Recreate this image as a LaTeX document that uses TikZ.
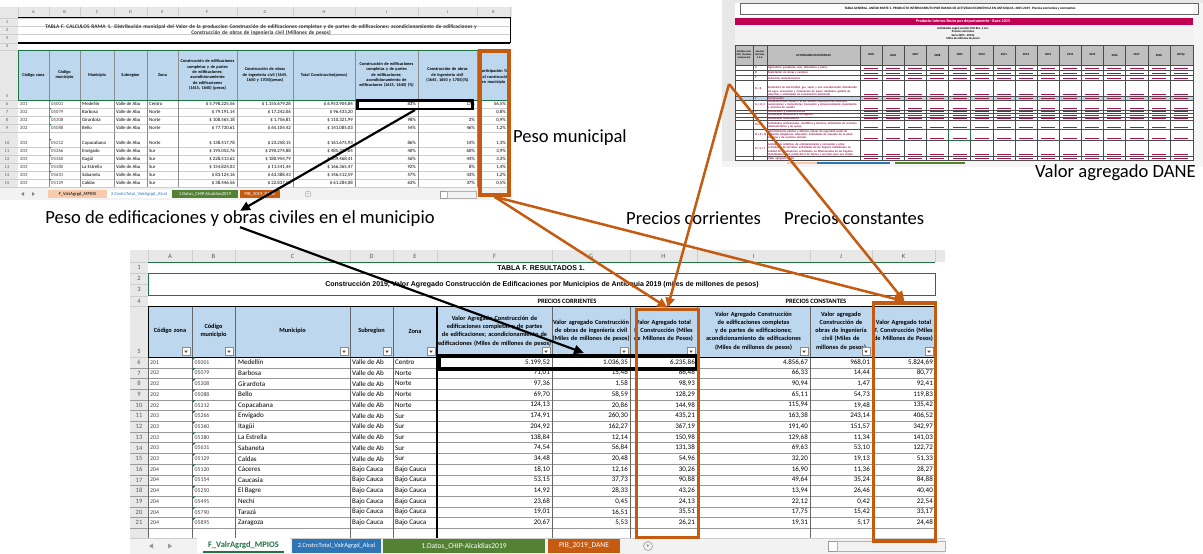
\documentclass[tikz,border=0pt]{standalone}
\usepackage{fontspec}
\setmainfont{Carlito}
\newfontfamily\arialfont{Liberation Sans}
\usetikzlibrary{arrows.meta}
\hyphenpenalty=10000
\exhyphenpenalty=10000

\definecolor{hdrblue}{RGB}{189,215,238}
\definecolor{sheetgrey}{RGB}{232,232,232}
\definecolor{gridgrey}{RGB}{205,205,205}
\definecolor{xlgreen}{RGB}{33,115,70}
\definecolor{tabgreen}{RGB}{84,130,53}
\definecolor{tabblue}{RGB}{46,117,182}
\definecolor{tabpeach}{RGB}{248,203,173}
\definecolor{hiorange}{RGB}{197,90,17}
\definecolor{danemag}{RGB}{192,0,80}
\definecolor{danetxt}{RGB}{165,20,75}
\definecolor{danehdr}{RGB}{191,191,191}

\newcommand{\fsz}[2]{\fontsize{#1}{#2}\selectfont}

\tikzset{
  collbl/.style={font=\fsz{6.5}{7},text=black!65,inner sep=0},
  rownum/.style={font=\fsz{6.5}{7},text=black!65,inner sep=0},
  hdrtxt/.style={font=\bfseries\fsz{6.3}{8.2},align=center,inner sep=0},
  datl/.style={font=\fsz{7}{8},anchor=west,inner sep=0},
  datr/.style={font=\fsz{7}{8},anchor=east,inner sep=0},
  codel/.style={font=\fsz{5.8}{7},anchor=west,inner sep=0,text=black!75},
  smcol/.style={font=\fsz{4.5}{5},text=black!65,inner sep=0},
  smhdr/.style={font=\bfseries\fsz{4.3}{5.4},align=center,inner sep=0},
  smdatl/.style={font=\fsz{4.8}{5},anchor=west,inner sep=0},
  smdatr/.style={font=\fsz{4.8}{5},anchor=east,inner sep=0},
  tabtxt/.style={font=\fsz{7.5}{8},inner sep=0},
  smtab/.style={font=\fsz{4.6}{5},inner sep=0},
  danetext/.style={font=\bfseries\fsz{2.9}{3.3},text=danetxt,inner sep=0},
  lbl/.style={font=\fsz{18.6}{20},inner sep=0},
  obox/.style={draw=hiorange,line width=3.5,inner sep=0},
  bbox/.style={draw=black,line width=3,inner sep=0},
  oarrow/.style={hiorange,line width=2.5,->},
  barrow/.style={black,line width=2.2,->}
}

\begin{document}
\begin{tikzpicture}[x=1pt,y=-1pt,>={Triangle[length=10pt,width=9pt]}]
\useasboundingbox (0,0) rectangle (1203,554);
\fill[white] (0,0) rectangle (1203,554);

%% calculos sheet (top left)
\fill[sheetgrey] (0,7) rectangle (512,18);
\fill[sheetgrey] (0,18) rectangle (18,188);
\foreach \l/\x in {A/33.5,B/64.5,C/97,D/130.5,E/162.5,F/207.5,G/265,H/324,I/386.5,J/447.5,K/493.5}
  \node[smcol] at (\x,12.5) {\l};
\foreach \x in {18,49,80,114,147,178,237,293,355,418,477,510}
  \draw[gridgrey,line width=0.4] (\x,7) -- (\x,18);
\foreach \r/\y in {1/22,2/30,3/38.5,4/46.5,5/96,6/104,7/112,8/120,9/128,10/143,11/151,12/159,13/167,14/175,15/183}
  \node[smcol] at (7,\y) {\r};
\foreach \y in {18,26,34,43,50,100,108,116,124,132,147,155,163,171,179,187}
  \draw[gridgrey,line width=0.4] (0,\y) -- (510,\y);
\draw[black,line width=0.6] (18,17.5) -- (510,17.5) -- (510,43);
\draw[black,line width=1.3] (18,43) -- (510,43);
\node[font=\bfseries\fsz{5.4}{6.6},align=center,text width=520,text=black!80] at (261,30)
  {TABLA F. CALCULOS RAMA 1. Distribución municipal del Valor de la produccion Construcción de edificaciones completas y de partes de edificaciones; acondicionamiento de edificaciones y\\Construcción de obras de ingenieria civil (Millones de pesos)};
\fill[hdrblue] (18,50) rectangle (510,100);
\foreach \xa/\xb/\txt in {18/49/{Código zona},49/80/{Código municipio},80/114/{Municipio},114/147/{Subregion},147/178/{Zona},
    178/237/{Construcción de edificaciones completas y de partes de edificaciones; acondicionamiento de edificaciones (1615, 1640) (pesos)},
    237/293/{Construcción de obras de ingeniería civil (1645, 1650 y 1705)(pesos)},
    293/355/{Total Construcción(pesos)},
    355/418/{Construcción de edificaciones completas y de partes de edificaciones; acondicionamiento de edificaciones (1615, 1640) (\%)},
    418/477/{Construcción de obras de ingeniería civil (1645, 1650 y 1705)(\%)}}{
  \pgfmathsetmacro\tw{\xb-\xa-3}
  \node[smhdr,text width=\tw pt] at ({(\xa+\xb)/2},75) {\txt};
}
\begin{scope}
  \clip (477.5,50) rectangle (509.5,100);
  \node[smhdr,text width=38pt] at (493.5,77) {Participación \% Total construcción en municipio};
\end{scope}
\foreach \x in {49,80,114,147,178,237,293,355,418,477,510}
  \draw[black!45,line width=0.4] (\x,50) -- (\x,187);
\draw[xlgreen,line width=0.7] (18,50) rectangle (510,100);
\foreach \r/\yc/\za/\mc/\mun/\zo/\vf/\vg/\vh/\vi/\vj/\vk in {
    6/104/201/05001/Medellín/Centro/{\$ 5.798.225,56}/{\$ 1.155.679,28}/{\$ 6.953.904,84}/83\%/17\%/{56,5\%},
    7/112/202/05079/Barbosa/Norte/{\$ 79.191,14}/{\$ 17.242,06}/{\$ 96.433,20}/{}/{}/{0,8\%},
    8/120/202/05308/Girardota/Norte/{\$ 108.565,18}/{\$ 1.756,81}/{\$ 110.321,99}/98\%/2\%/{0,9\%},
    9/128/202/05088/Bello/Norte/{\$ 77.730,61}/{\$ 65.104,42}/{\$ 141.085,03}/54\%/46\%/{1,2\%},
    10/143/202/05212/Copacabana/Norte/{\$ 138.417,78}/{\$ 23.258,15}/{\$ 161.675,93}/86\%/14\%/{1,3\%},
    11/151/203/05266/Envigado/Sur/{\$ 195.052,76}/{\$ 290.274,88}/{\$ 485.327,64}/40\%/60\%/{3,9\%},
    12/159/203/05360/Itagüí/Sur/{\$ 228.513,62}/{\$ 180.954,79}/{\$ 409.468,41}/56\%/44\%/{3,3\%},
    13/167/203/05380/La Estrella/Sur/{\$ 154.824,03}/{\$ 11.541,44}/{\$ 166.365,47}/92\%/8\%/{1,4\%},
    14/175/203/05631/Sabaneta/Sur/{\$ 83.124,16}/{\$ 63.388,43}/{\$ 146.512,59}/57\%/43\%/{1,2\%},
    15/183/203/05129/Caldas/Sur/{\$ 38.446,56}/{\$ 22.837,52}/{\$ 61.284,08}/63\%/37\%/{0,5\%}}{
  \node[smdatl,text=black!75] at (20,\yc) {\za};
  \node[smdatl,text=black!75] at (51,\yc) {\mc};
  \node[smdatl] at (82,\yc) {\mun};
  \node[smdatl] at (116,\yc) {Valle de Abu};
  \node[smdatl] at (149,\yc) {\zo};
  \node[smdatr] at (235,\yc) {\vf};
  \node[smdatr] at (291,\yc) {\vg};
  \node[smdatr] at (353,\yc) {\vh};
  \node[smdatr] at (416,\yc) {\vi};
  \node[smdatr] at (475,\yc) {\vj};
  \node[smdatr] at (506,\yc) {\vk};
  \fill[xlgreen] (49.5,\yc-4) -- (51.5,\yc-4) -- (49.5,\yc-2) -- cycle;
}
% tabs
\fill[black!5] (0,188) rectangle (512,200);
\fill[black!45] (21,194) -- (24,192) -- (24,196) -- cycle;
\fill[black!45] (35,194) -- (32,192) -- (32,196) -- cycle;
\fill[tabpeach] (48,189.5) rectangle (107,198);
\node[smtab] at (77.5,194) {F\_ValrAgrgd\_MPIOS};
\fill[white] (107,189.5) rectangle (171,198);
\node[smtab,text=tabblue] at (139,194) {2.CnstrcTotal\_ValrAgrgd\_Alcal};
\fill[tabgreen] (172,189.5) rectangle (238,198);
\node[smtab,text=white] at (205,194) {1.Datos\_CHIP-Alcaldias2019};
\fill[hiorange] (240,189.5) rectangle (280,198);
\node[smtab,text=white] at (260,194) {PIB\_2019\_DANE};
\draw[black!40,line width=0.4] (308,194) circle (3);
\node[smtab,text=black!50] at (308,194) {+};
\draw[black!40,line width=0.4,fill=white] (440,191) rectangle (447,198);
\draw[black!30,line width=0.4] (447,191) rectangle (476,198);

%% DANE sheet (top right)
\fill[black!4] (722,0) rectangle (1203,167);
\fill[white] (735,3) rectangle (1193,161);
\fill[sheetgrey] (722,0) rectangle (1203,3);
\fill[sheetgrey] (722,3) rectangle (735,161);
\draw[black!60,line width=0.6] (740,3.5) rectangle (1198,14);
\node[font=\bfseries\fsz{3.4}{4},inner sep=0] at (960,8.5)
  {TABLA GENERAL. ANEXO PARTE 3. PRODUCTO INTERNO BRUTO POR RAMAS DE ACTIVIDAD ECONÓMICA EN ANTIOQUIA, 2005-2019. Precios corrientes y constantes};
\fill[danemag] (735,18) rectangle (1193,25);
\node[font=\bfseries\fsz{4.2}{5},text=white,inner sep=0] at (963,21.5) {Producto Interno Bruto por departamento - Base 2015};
\fill[black!5] (735,25) rectangle (1193,45);
\node[font=\bfseries\fsz{3}{3.5},align=center,inner sep=0] at (963,33.5)
  {Actividades según sección CIIU Rev. 4 A.C.\\Precios corrientes\\Serie 2005 - 2019p\\Miles de millones de pesos};
\fill[danehdr] (735,45) rectangle (1193,65);
\node[font=\bfseries\fsz{2.6}{3},align=center,text width=16pt,inner sep=0] at (744,55) {Clasifica-ción CIIU (Cuentas naciona-les)};
\node[font=\bfseries\fsz{2.6}{3},align=center,text width=12pt,inner sep=0] at (760,55) {Sección CIIU Rev. 4 A.C.};
\node[font=\bfseries\fsz{3}{3.5},inner sep=0] at (813.5,55) {ACTIVIDADES ECONÓMICAS};
\foreach \yr [count=\i from 0] in {2005,2006,...,2018,2019p}
  \node[font=\bfseries\fsz{3}{3.5},inner sep=0] at ({871.07+\i*22.133},55) {\yr};
\fill[hdrblue] (735,96.5) rectangle (1193,100);
\foreach \rt/\rb/\cod/\act in {
    65/70/A/{Agricultura, ganadería, caza, silvicultura y pesca},
    70/75/B/{Explotación de minas y canteras},
    75/80/C/{Industrias manufactureras},
    80/96.5/{D + E}/{Suministro de electricidad, gas, vapor y aire acondicionado; distribución de agua; evacuación y tratamiento de aguas residuales, gestión de desechos y actividades de saneamiento ambiental},
    96.5/100/F/{Construcción},
    100/110/{G + H + I}/{Comercio al por mayor y al por menor; reparación de vehículos automotores y motocicletas; transporte y almacenamiento; alojamiento y servicios de comida},
    110/113.5/J/{Información y comunicaciones},
    113.5/117/K/{Actividades financieras y de seguros},
    117/120.5/L/{Actividades inmobiliarias},
    120.5/129/{M + N}/{Actividades profesionales, científicas y técnicas; actividades de servicios administrativos y de apoyo},
    129/140/{O + P + Q}/{Administración pública y defensa; planes de seguridad social de afiliación obligatoria; educación; actividades de atención de la salud humana y de servicios sociales},
    140/156.5/{R + S + T}/{Actividades artísticas, de entretenimiento y recreación y otras actividades de servicios; actividades de los hogares individuales en calidad de empleadores; actividades no diferenciadas de los hogares individuales como productores de bienes y servicios para uso propio},
    156.5/160.5/{}/{Valor agregado bruto}}{
  \draw[black!70,line width=0.4] (735,\rb) -- (1193,\rb);
  \node[danetext,anchor=west] at (755,{(\rt+\rb)/2}) {\cod};
  \node[danetext,anchor=south west,text width=90pt,align=left] at (768,\rb-0.5) {\act};
  \foreach \i in {0,...,14}
    \draw[danetxt,line width=1.1] ({864+\i*22.133},\rb-1.6) -- ({878+\i*22.133},\rb-1.6);
}
\draw[black!70,line width=0.5] (735,45) rectangle (1193,160.5);
\draw[black!70,line width=0.5] (735,65) -- (1193,65);
\foreach \x in {753,767}
  \draw[black!70,line width=0.4] (\x,45) -- (\x,160.5);
\foreach \i in {0,...,14}
  \draw[black!70,line width=0.4] ({860+\i*22.133},45) -- ({860+\i*22.133},160.5);
\draw[xlgreen,line width=0.6] (948.5,129) rectangle (970.6,140);
\fill[tabpeach] (787,162) rectangle (817,164);
\fill[tabblue] (817,162) rectangle (890,164);
\fill[tabgreen] (895,162) rectangle (965,164);

%% resultados sheet (bottom)
\fill[white] (130,250) rectangle (945,538);
\fill[sheetgrey] (130,250) rectangle (945,262);
\fill[sheetgrey] (130,262) rectangle (148,538);
\foreach \x in {148,192,235,350,393,437,552,630,697,810,872,935}
  \draw[gridgrey,line width=0.5] (\x,250) -- (\x,262);
\foreach \l/\x in {A/170,B/213.5,C/292.5,D/371.5,E/415,F/494.5,G/591,H/663.5,I/753.5,J/841,K/903.5}
  \node[collbl] at (\x,256.5) {\l};
\foreach \r/\y in {1/267.5,2/278,3/289.5,4/301,5/351}
  \node[rownum] at (139,\y) {\r};
\foreach \y in {262,273,284,296,306,357}
  \draw[gridgrey,line width=0.4] (130,\y) -- (148,\y);
\draw[xlgreen,line width=0.8] (148,262.5) -- (935,262.5);
\draw[xlgreen,line width=0.8] (148,273) rectangle (935,295.5);
\node[font=\arialfont\bfseries\fsz{7}{8},inner sep=0] at (541,268) {TABLA F. RESULTADOS 1.};
\node[font=\arialfont\bfseries\fsz{7}{8},inner sep=0] at (542,284.5)
  {Construcción 2019, Valor Agregado Construcción de Edificaciones por Municipios de Antioquia 2019 (miles de millones de pesos)};
\node[font=\bfseries\fsz{6.6}{7},inner sep=0] at (567,301) {PRECIOS CORRIENTES};
\node[font=\bfseries\fsz{6.6}{7},inner sep=0] at (816,301) {PRECIOS CONSTANTES};
\fill[hdrblue] (148,306) rectangle (935,357);
\foreach \xa/\xb/\txt in {148/192/{Código zona},192/235/{Código municipio},235/350/{Municipio},350/393/{Subregion},393/437/{Zona},
    437/552/{Valor Agregado Construcción de edificaciones completas y de partes de edificaciones; acondicionamiento de edificaciones (Miles de millones de pesos)},
    552/630/{Valor agregado Construcción de obras de ingeniería civil (Miles de millones de pesos)},
    630/697/{Valor Agregado total F. Construcción (Miles de Millones de Pesos)},
    697/810/{Valor Agregado Construcción de edificaciones completas y de partes de edificaciones; acondicionamiento de edificaciones (Miles de millones de pesos)},
    810/872/{Valor agregado Construcción de obras de ingeniería civil (Miles de millones de pesos)},
    872/935/{Valor Agregado total F. Construcción (Miles de Millones de Pesos)}}{
  \pgfmathsetmacro\tw{\xb-\xa-1}
  \node[hdrtxt,text width=\tw pt] at ({(\xa+\xb)/2},331) {\txt};
  \draw[black!45,line width=0.4,fill=white] (\xb-10,347.5) rectangle (\xb-2,355.5);
  \fill[black!70] (\xb-7.8,350.5) -- (\xb-4.2,350.5) -- (\xb-6,353) -- cycle;
}
\foreach \k in {1,...,16}
  \draw[black!40,line width=0.4] (130,357+\k*10.7) -- (935,357+\k*10.7);
\foreach \x in {148,192,235,350,393,552,630,697,810,872,935}
  \draw[black!60,line width=0.5] (\x,306) -- (\x,538);
\draw[black,line width=1.2] (437,306) -- (437,538);
\draw[black,line width=0.9] (148,306) rectangle (935,357);
\foreach \r/\za/\mc/\mun/\sr/\zo/\vf/\vg/\vh/\vi/\vj/\vk in {
    6/201/05001/Medellín/Valle de Ab/Centro/{5.199,52}/{1.036,35}/{6.235,86}/{4.856,67}/{968,01}/{5.824,69},
    7/202/05079/Barbosa/Valle de Ab/Norte/{71,01}/{15,46}/{86,48}/{66,33}/{14,44}/{80,77},
    8/202/05308/Girardota/Valle de Ab/Norte/{97,36}/{1,58}/{98,93}/{90,94}/{1,47}/{92,41},
    9/202/05088/Bello/Valle de Ab/Norte/{69,70}/{58,59}/{128,29}/{65,11}/{54,73}/{119,83},
    10/202/05212/Copacabana/Valle de Ab/Norte/{124,13}/{20,86}/{144,98}/{115,94}/{19,48}/{135,42},
    11/203/05266/Envigado/Valle de Ab/Sur/{174,91}/{260,30}/{435,21}/{163,38}/{243,14}/{406,52},
    12/203/05360/Itagüí/Valle de Ab/Sur/{204,92}/{162,27}/{367,19}/{191,40}/{151,57}/{342,97},
    13/203/05380/La Estrella/Valle de Ab/Sur/{138,84}/{12,14}/{150,98}/{129,68}/{11,34}/{141,03},
    14/203/05631/Sabaneta/Valle de Ab/Sur/{74,54}/{56,84}/{131,38}/{69,63}/{53,10}/{122,72},
    15/203/05129/Caldas/Valle de Ab/Sur/{34,48}/{20,48}/{54,96}/{32,20}/{19,13}/{51,33},
    16/204/05120/Cáceres/Bajo Cauca/Bajo Cauca/{18,10}/{12,16}/{30,26}/{16,90}/{11,36}/{28,27},
    17/204/05154/Caucasia/Bajo Cauca/Bajo Cauca/{53,15}/{37,73}/{90,88}/{49,64}/{35,24}/{84,88},
    18/204/05250/El Bagre/Bajo Cauca/Bajo Cauca/{14,92}/{28,33}/{43,26}/{13,94}/{26,46}/{40,40},
    19/204/05495/Nechí/Bajo Cauca/Bajo Cauca/{23,68}/{0,45}/{24,13}/{22,12}/{0,42}/{22,54},
    20/204/05790/Tarazá/Bajo Cauca/Bajo Cauca/{19,01}/{16,51}/{35,51}/{17,75}/{15,42}/{33,17},
    21/204/05895/Zaragoza/Bajo Cauca/Bajo Cauca/{20,67}/{5,53}/{26,21}/{19,31}/{5,17}/{24,48}}{
  \pgfmathsetmacro\yc{362.35+(\r-6)*10.7}
  \node[rownum] at (139,\yc) {\r};
  \node[codel] at (150,\yc) {\za};
  \node[codel] at (194.5,\yc) {\mc};
  \node[datl] at (238,\yc) {\mun};
  \node[datl] at (352,\yc) {\sr};
  \node[datl] at (395,\yc) {\zo};
  \node[datr] at (550,\yc) {\vf};
  \node[datr] at (628,\yc) {\vg};
  \node[datr] at (695,\yc) {\vh};
  \node[datr] at (808,\yc) {\vi};
  \node[datr] at (870,\yc) {\vj};
  \node[datr] at (933,\yc) {\vk};
  \fill[xlgreen] (192.5,\yc-5) -- (195.5,\yc-5) -- (192.5,\yc-2) -- cycle;
}
% tabs
\fill[black!5] (130,538) rectangle (945,554);
\draw[gridgrey,line width=0.5] (130,538) -- (945,538);
\fill[black!40] (149,546) -- (153,543.5) -- (153,548.5) -- cycle;
\fill[black!40] (172,546) -- (168,543.5) -- (168,548.5) -- cycle;
\fill[white] (197,538) rectangle (290,553);
\node[tabtxt,font=\bfseries\fsz{8.5}{9},text=xlgreen] at (243.5,545.5) {F\_ValrAgrgd\_MPIOS};
\draw[xlgreen,line width=1.2] (203,552) -- (284,552);
\fill[tabblue] (292,539) rectangle (381,553);
\node[tabtxt,font=\fsz{6.4}{7},text=white] at (336.5,546) {2.CnstrcTotal\_ValrAgrgd\_Alcal};
\fill[tabgreen] (383,539) rectangle (545,553);
\node[tabtxt,text=white] at (464,546) {1.Datos\_CHIP-Alcaldias2019};
\fill[hiorange] (548,539) rectangle (620,553);
\node[tabtxt,text=white] at (584,546) {PIB\_2019\_DANE};
\draw[black!45,line width=0.5] (648,546) circle (4.5);
\node[tabtxt,text=black!55] at (648,546) {+};
\draw[black!40,line width=0.5,fill=white] (828,541) rectangle (837,551);
\draw[black!30,line width=0.5] (837,541) rectangle (945,551);

%% highlight boxes
\node[bbox,line width=2.5,minimum width=115,minimum height=8.5] (medbox) at (415,104.5) {};
\node[bbox,line width=3.5,minimum width=258,minimum height=13] (medres) at (568,362.5) {};
\node[obox,minimum width=29,minimum height=144] (pesobox) at (494.5,123) {};
\node[obox,minimum width=62,minimum height=228] (corrbox) at (667.5,423.5) {};
\node[obox,minimum width=62,minimum height=238] (constbox) at (904.5,422) {};

%% labels
\node[lbl,anchor=west] (pesomun) at (513,138) {Peso municipal};
\node[lbl] (pesoedif) at (240,219) {Peso de edificaciones y obras civiles en el municipio};
\node[lbl,anchor=west] (preccorr) at (626,218) {Precios corrientes};
\node[lbl,anchor=west] (precconst) at (784,218) {Precios constantes};
\node[lbl,anchor=west] (valdane) at (1035,173) {Valor agregado DANE};

%% connectors
\coordinate (danept) at (729,84);
\coordinate (restip) at (584,353);
\draw[barrow] (medbox.south) -- (pesoedif.north);
\draw[barrow] (pesoedif.south) -- (restip);
\draw[oarrow] (pesobox.south) -- (corrbox.north);
\draw[oarrow] (pesobox.south) -- (constbox.north);
\draw[oarrow] (danept) -- (corrbox.north);
\draw[oarrow] (danept) -- (constbox.north);
\end{tikzpicture}
\end{document}
